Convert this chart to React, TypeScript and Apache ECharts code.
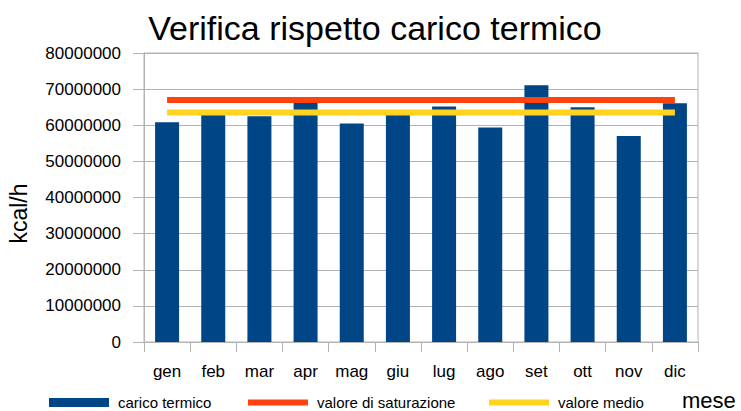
import React, { useEffect, useRef } from "react";
import * as echarts from "echarts";

const months = ["gen", "feb", "mar", "apr", "mag", "giu", "lug", "ago", "set", "ott", "nov", "dic"];
const caricoTermico = [60800000, 63000000, 62500000, 66200000, 60500000, 63000000, 65200000, 59400000, 71100000, 65000000, 57000000, 66100000];
const valoreSaturazione = [67000000, 67000000, 67000000, 67000000, 67000000, 67000000, 67000000, 67000000, 67000000, 67000000, 67000000, 67000000];
const valoreMedio = [63500000, 63500000, 63500000, 63500000, 63500000, 63500000, 63500000, 63500000, 63500000, 63500000, 63500000, 63500000];
const seriesNames = ["carico termico", "valore di saturazione", "valore medio"];
const titleText = "Verifica rispetto carico termico";
const yName = "kcal/h";
const xName = "mese";

const FONT = "'Liberation Sans', Arial, sans-serif";
const GRID = "#b3b3b3";
const BLUE = "#004586";
const RED = "#ff420e";
const YELLOW = "#ffd320";

export default function App() {
  const ref = useRef<HTMLDivElement>(null);
  useEffect(() => {
    if (!ref.current) return;
    const chart = echarts.init(ref.current, undefined, { renderer: "svg" });
    const lineIcon = "path://M0,0L60,0L60,6L0,6Z";
    const legendBase = {
      top: 395,
      padding: 0,
      itemWidth: 60,
      itemHeight: 9,
      textStyle: { fontFamily: FONT, fontSize: 15, color: "#000", padding: [0, 0, 0, 4] },
    };
    chart.setOption({
      animation: false,
      backgroundColor: "#fff",
      grid: {
        left: 144,
        right: 43,
        top: 53,
        bottom: 69,
        show: true,
        borderColor: GRID,
        borderWidth: 1,
        backgroundColor: "transparent",
      },
      legend: [
        { ...legendBase, left: 49, data: [{ name: seriesNames[0], icon: "rect" }] },
        { ...legendBase, left: 248, data: [{ name: seriesNames[1], icon: lineIcon }] },
        { ...legendBase, left: 489, data: [{ name: seriesNames[2], icon: lineIcon }] },
      ],
      xAxis: {
        type: "category",
        data: months,
        boundaryGap: true,
        axisLine: { lineStyle: { color: GRID, width: 1 } },
        axisTick: { show: true, length: 10, lineStyle: { color: GRID } },
        axisLabel: { color: "#000", fontFamily: FONT, fontSize: 17, margin: 21 },
        splitLine: { show: false },
      },
      yAxis: {
        type: "value",
        min: 0,
        max: 80000000,
        interval: 10000000,
        axisLine: { show: true, lineStyle: { color: GRID, width: 1 } },
        axisTick: { show: true, length: 11, lineStyle: { color: GRID } },
        axisLabel: {
          color: "#000",
          fontFamily: FONT,
          fontSize: 17,
          margin: 23,
          formatter: (v: number) => String(Math.round(v)),
        },
        splitLine: { show: true, lineStyle: { color: GRID, width: 1 } },
      },
      series: [
        {
          name: seriesNames[0],
          type: "bar",
          data: caricoTermico,
          barWidth: 24,
          itemStyle: { color: BLUE },
          z: 2,
        },
        {
          name: seriesNames[1],
          type: "line",
          data: valoreSaturazione,
          symbol: "none",
          lineStyle: { color: RED, width: 6, cap: "butt" },
          itemStyle: { color: RED },
          z: 4,
        },
        {
          name: seriesNames[2],
          type: "line",
          data: valoreMedio,
          symbol: "none",
          lineStyle: { color: YELLOW, width: 6, cap: "butt" },
          itemStyle: { color: YELLOW },
          z: 3,
        },
      ],
      graphic: [
        {
          type: "text",
          x: 375,
          y: 27.5,
          style: {
            text: titleText,
            fontFamily: FONT,
            fontSize: 34,
            fill: "#000",
            align: "center",
            verticalAlign: "middle",
            textAlign: "center",
            textVerticalAlign: "middle",
          },
        },
        {
          type: "text",
          x: 19,
          y: 213.5,
          rotation: Math.PI / 2,
          style: {
            text: yName,
            fontFamily: FONT,
            fontSize: 23,
            fill: "#000",
            align: "center",
            verticalAlign: "middle",
            textAlign: "center",
            textVerticalAlign: "middle",
          },
        },
        {
          type: "text",
          x: 682,
          y: 400,
          style: {
            text: xName,
            fontFamily: FONT,
            fontSize: 22,
            fill: "#000",
            align: "left",
            verticalAlign: "middle",
            textAlign: "left",
            textVerticalAlign: "middle",
          },
        },
      ],
    });
    return () => chart.dispose();
  }, []);
  return <div ref={ref} style={{ width: 741, height: 411, position: "absolute", left: 0, top: 0 }} />;
}
